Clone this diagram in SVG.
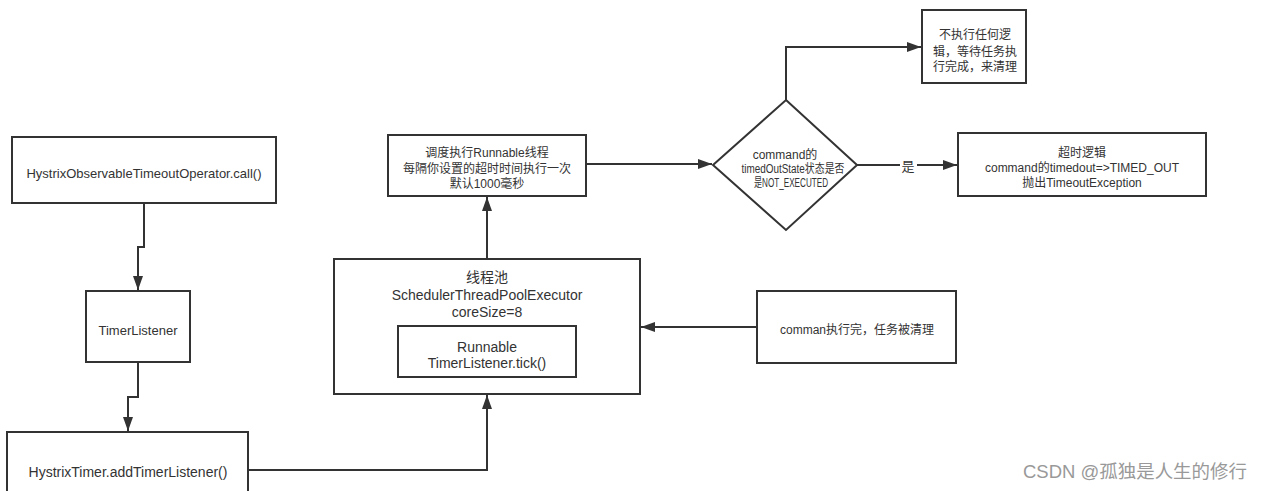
<svg xmlns="http://www.w3.org/2000/svg" width="1280" height="491" viewBox="0 0 1280 491">
<defs>
<style>
.box{fill:#fff;stroke:#333;stroke-width:2}
.t{font-family:"Liberation Sans","Noto Sans CJK SC",sans-serif;font-size:12px;fill:#333;text-anchor:middle;dominant-baseline:central}
.c{fill:none;stroke:#333;stroke-width:2}
.wm{font-family:"Liberation Sans","Noto Sans CJK SC",sans-serif;font-size:18px;fill:#999}
</style>
<marker id="ah" viewBox="0 0 14 10" refX="14" refY="5" markerWidth="14" markerHeight="10" markerUnits="userSpaceOnUse" orient="auto">
<path d="M0,0 L14,5 L0,10 z" fill="#333"/>
</marker>
</defs>
<rect width="1280" height="491" fill="#fff"/>
<g id="connectors">
<path class="c" d="M144,203 V247 H138 V290" marker-end="url(#ah)"/>
<path class="c" d="M138,362 V397 H128 V431" marker-end="url(#ah)"/>
<path class="c" d="M248,470 H487 V395" marker-end="url(#ah)"/>
<path class="c" d="M487,259 V197" marker-end="url(#ah)"/>
<path class="c" d="M586,164 H712" marker-end="url(#ah)"/>
<path class="c" d="M786,100 V47 H921" marker-end="url(#ah)"/>
<path class="c" d="M857,165 H957" marker-end="url(#ah)"/>
<path class="c" d="M757,327 H641" marker-end="url(#ah)"/>
<rect x="900" y="157" width="17" height="16" fill="#fff"/>
<text class="t" x="908" y="166" style="font-size:13px">是</text>
</g>
<g id="n1">
<rect class="box" x="12" y="137" width="264" height="66"/>
<text class="t" x="144" y="173" style="font-size:13px">HystrixObservableTimeoutOperator.call()</text>
</g>
<g id="n2">
<rect class="box" x="86" y="291" width="104" height="71"/>
<text class="t" x="138" y="330" style="font-size:13px">TimerListener</text>
</g>
<g id="n3">
<rect class="box" x="7" y="432" width="241" height="70"/>
<text class="t" x="128" y="472" style="font-size:14px">HystrixTimer.addTimerListener()</text>
</g>
<g id="n4">
<rect class="box" x="334" y="259" width="306" height="135"/>
<text class="t" x="487" y="277" style="font-size:14px">线程池</text>
<text class="t" x="487" y="295" style="font-size:14px">SchedulerThreadPoolExecutor</text>
<text class="t" x="487" y="312" style="font-size:14px">coreSize=8</text>
</g>
<g id="n5">
<rect class="box" x="398" y="326" width="178" height="51"/>
<text class="t" x="487" y="347" style="font-size:14px">Runnable</text>
<text class="t" x="487" y="363" style="font-size:14px">TimerListener.tick()</text>
</g>
<g id="n6">
<rect class="box" x="388" y="135" width="198" height="61"/>
<text class="t" x="487" y="153">调度执行Runnable线程</text>
<text class="t" x="487" y="169">每隔你设置的超时时间执行一次</text>
<text class="t" x="487" y="184">默认1000毫秒</text>
</g>
<g id="n7">
<path class="box" d="M786,100 L857,165 L786,230 L713,165 Z"/>
<text class="t" x="785" y="155">command的</text>
<text class="t" x="793" y="169" textLength="103" lengthAdjust="spacingAndGlyphs">timedOutState状态是否</text>
<text class="t" x="791" y="183" textLength="74" lengthAdjust="spacingAndGlyphs">是NOT_EXECUTED</text>
</g>
<g id="n8">
<rect class="box" x="922" y="10" width="104" height="73"/>
<text class="t" x="975" y="35">不执行任何逻</text>
<text class="t" x="975" y="52">辑，等待任务执</text>
<text class="t" x="975" y="67">行完成，来清理</text>
</g>
<g id="n9">
<rect class="box" x="958" y="133" width="248" height="63"/>
<text class="t" x="1082" y="153">超时逻辑</text>
<text class="t" x="1082" y="168">command的timedout=&gt;TIMED_OUT</text>
<text class="t" x="1082" y="183">抛出TimeoutException</text>
</g>
<g id="n10">
<rect class="box" x="757" y="291" width="199" height="72"/>
<text class="t" x="857" y="330">comman执行完，任务被清理</text>
</g>
<text class="wm" x="1023" y="478" textLength="224" lengthAdjust="spacingAndGlyphs">CSDN @孤独是人生的修行</text>
</svg>
